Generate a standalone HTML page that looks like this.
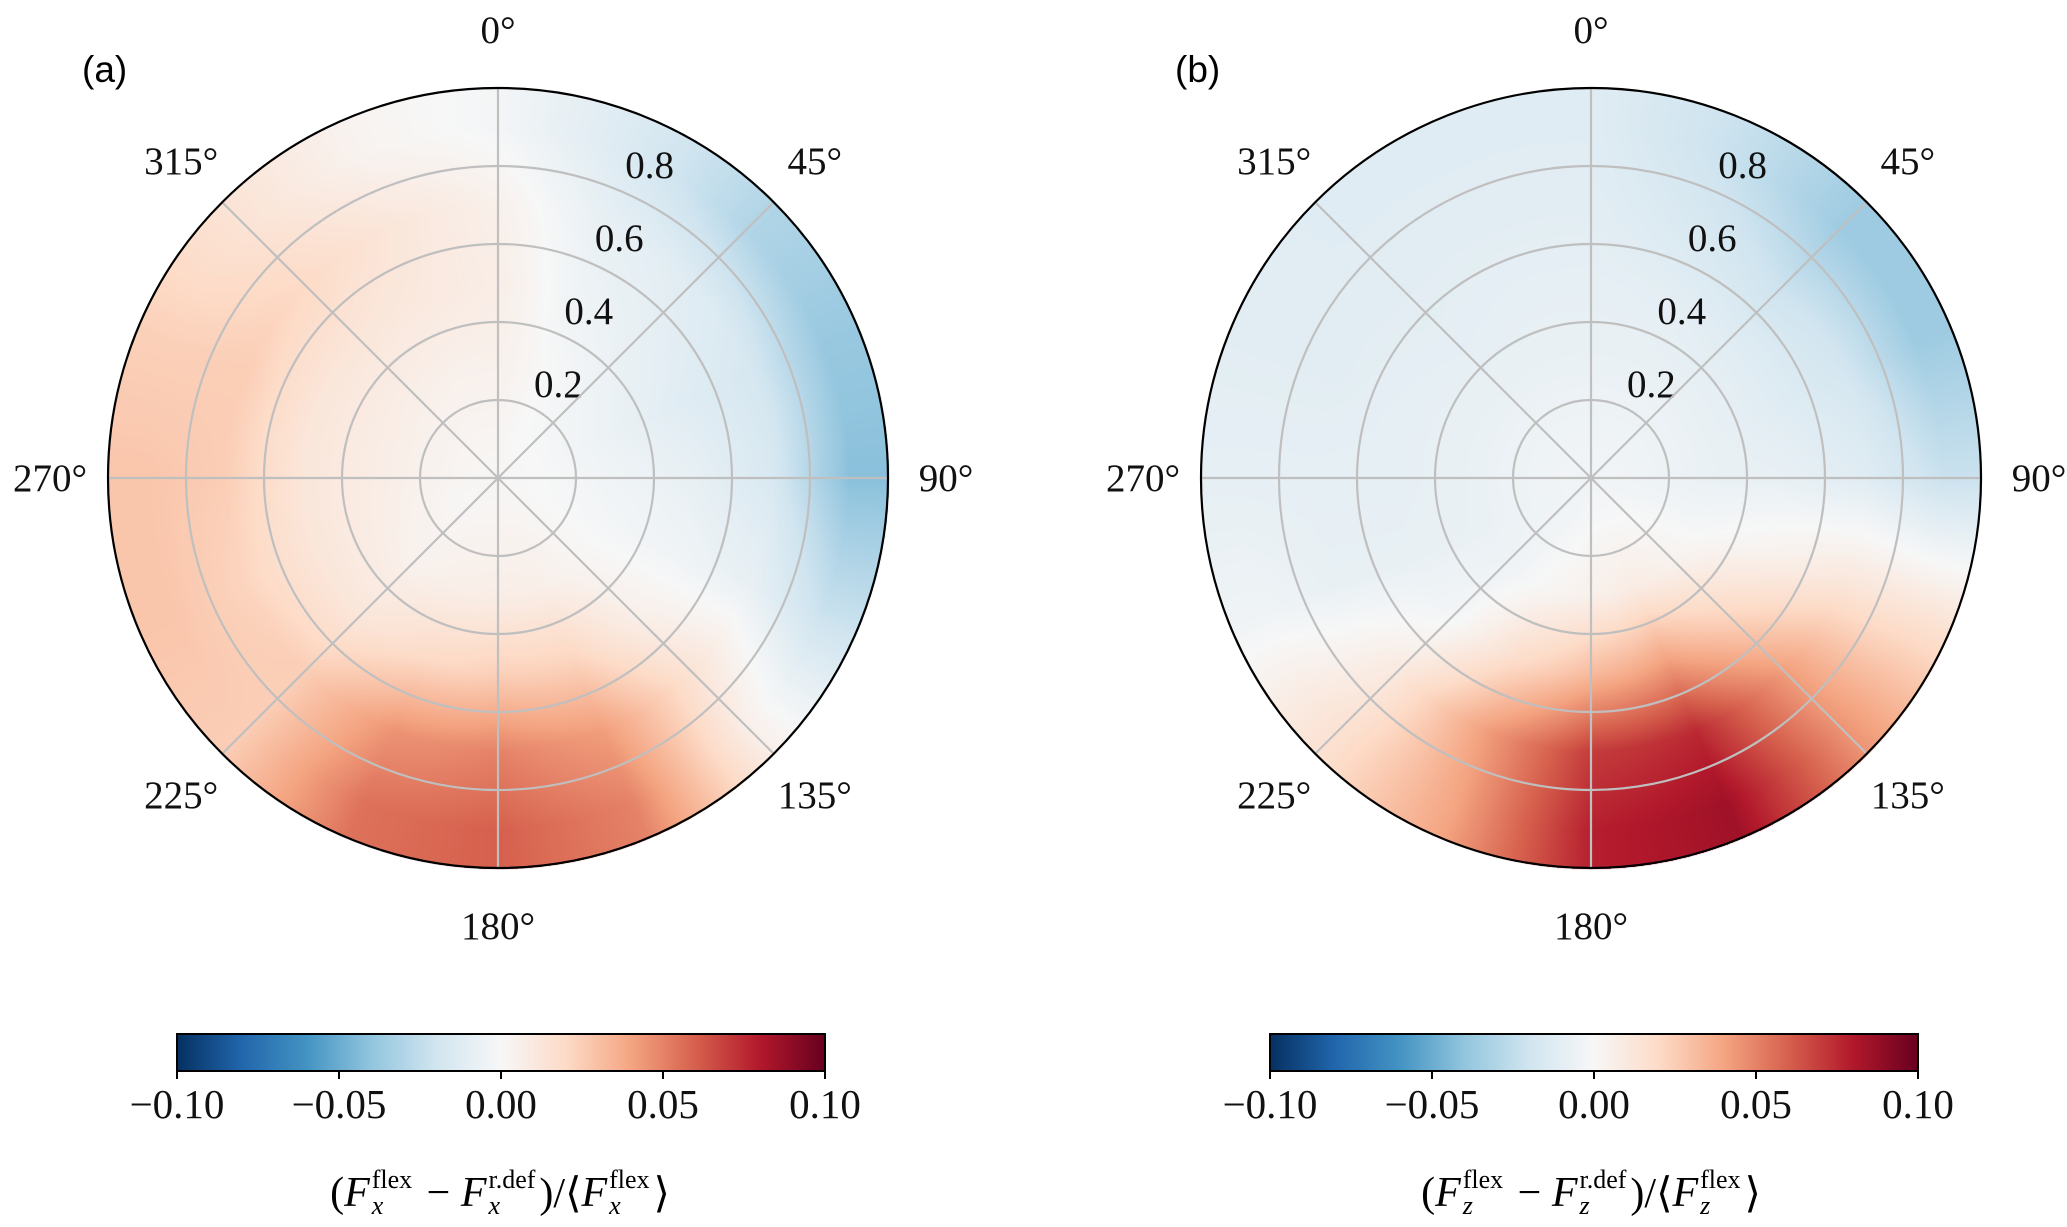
<!DOCTYPE html>
<html><head><meta charset="utf-8">
<style>
body{margin:0;background:#fff;}
#wrap{position:relative;width:2067px;height:1227px;overflow:hidden;background:#fff;}
canvas,svg{position:absolute;left:0;top:0;}
.lbl{position:absolute;font-family:"Liberation Serif",serif;font-size:42px;white-space:nowrap;transform:translate(-50%,-50%);display:flex;align-items:center;}
.lbl i{font-style:italic}
.ss{display:inline-flex;flex-direction:column;font-size:26px;line-height:26px;margin-left:2px;margin-right:4px;}
.ss .sb{font-style:italic}
</style></head><body>
<div id="wrap">
<canvas id="cv" width="2067" height="1227"></canvas>
<svg id="sv" width="2067" height="1227"></svg>
<div class="lbl" style="left:500px;top:1193px">(<i>F</i><span class="ss"><span>flex</span><span class="sb">x</span></span>&nbsp;−&nbsp;<i>F</i><span class="ss"><span>r.def</span><span class="sb">x</span></span>)/⟨<i>F</i><span class="ss"><span>flex</span><span class="sb">x</span></span>⟩</div>
<div class="lbl" style="left:1591px;top:1193px">(<i>F</i><span class="ss"><span>flex</span><span class="sb">z</span></span>&nbsp;−&nbsp;<i>F</i><span class="ss"><span>r.def</span><span class="sb">z</span></span>)/⟨<i>F</i><span class="ss"><span>flex</span><span class="sb">z</span></span>⟩</div>
</div>
<script>
const angleDeg=[0,22.5,45,67.5,90,112.5,135,157.5,180,202.5,225,247.5,270,292.5,315,337.5];
const radii=[0.1,0.3,0.5,0.7,0.9];
const valuesA=[
[0.002,0.005,0.007,0.005,-0.002],
[0,0,-0.004,-0.008,-0.015],
[0,-0.004,-0.008,-0.012,-0.03],
[0,-0.006,-0.012,-0.017,-0.038],
[0,-0.004,-0.008,-0.016,-0.042],
[0,-0.002,-0.004,-0.008,-0.022],
[0.001,0.002,0.006,0.014,0.006],
[0.002,0.006,0.022,0.042,0.05],
[0.002,0.007,0.024,0.05,0.06],
[0.002,0.006,0.02,0.045,0.055],
[0.001,0.004,0.012,0.025,0.025],
[0.001,0.006,0.012,0.022,0.028],
[0.002,0.007,0.012,0.025,0.028],
[0.002,0.007,0.012,0.025,0.024],
[0.002,0.006,0.012,0.02,0.014],
[0.002,0.005,0.01,0.012,0.003]];
const valuesB=[
[-0.004,-0.007,-0.009,-0.011,-0.012],
[-0.004,-0.007,-0.01,-0.016,-0.022],
[-0.004,-0.007,-0.012,-0.022,-0.036],
[-0.004,-0.007,-0.012,-0.018,-0.036],
[-0.004,-0.007,-0.008,-0.012,-0.022],
[-0.003,-0.002,0.004,0.012,0.014],
[-0.001,0.004,0.022,0.042,0.045],
[-0.001,0.008,0.04,0.075,0.085],
[-0.001,0.005,0.032,0.07,0.078],
[-0.003,0.001,0.018,0.042,0.04],
[-0.004,-0.005,-0.002,0.01,0.015],
[-0.004,-0.007,-0.008,-0.008,-0.004],
[-0.004,-0.007,-0.009,-0.009,-0.009],
[-0.004,-0.007,-0.009,-0.011,-0.011],
[-0.004,-0.007,-0.01,-0.011,-0.012],
[-0.004,-0.007,-0.009,-0.011,-0.012]];
const ringTicks=[0.2,0.4,0.6,0.8];
const ringLabels=["0.2","0.4","0.6","0.8"];
const thetaTicks=[0,45,90,135,180,225,270,315];
const cbTicks=[-0.1,-0.05,0,0.05,0.1];
const cbLabels=["−0.10","−0.05","0.00","0.05","0.10"];
const cmapStops=["#053061","#2166ac","#4393c3","#92c5de","#d1e5f0","#f7f7f7","#fddbc7","#f4a582","#d6604d","#b2182b","#67001f"];
const VMIN=-0.1,VMAX=0.1,R=390,CY=478;
const panels=[{cx:498,vals:valuesA,tag:"(a)",id:"a",cb0:177,cb1:825},{cx:1591,vals:valuesB,tag:"(b)",id:"b",cb0:1270,cb1:1918}];
function hex(h){return [1,3,5].map(i=>parseInt(h.substr(i,2),16));}
const stopsRGB=cmapStops.map(hex);
function cmap(v){let t=(v-VMIN)/(VMAX-VMIN);t=Math.max(0,Math.min(1,t))*10;let i=Math.min(9,Math.floor(t)),f=t-i;const a=stopsRGB[i],b=stopsRGB[i+1];return [a[0]+(b[0]-a[0])*f,a[1]+(b[1]-a[1])*f,a[2]+(b[2]-a[2])*f];}
function field(vals,r,thDeg){
 const n=angleDeg.length;let p=thDeg/22.5;let i0=Math.floor(p)%n,i1=(i0+1)%n,fa=p-Math.floor(p);
 let rr=Math.max(radii[0],Math.min(radii[radii.length-1],r));let j=0;while(j<radii.length-2&&rr>radii[j+1])j++;
 let fr=(rr-radii[j])/(radii[j+1]-radii[j]);
 const g=(i)=>vals[i][j]*(1-fr)+vals[i][j+1]*fr;
 const c0=g(i0)*(1-fa)+g(i1)*fa;
 const cen=vals.reduce((s,row)=>s+row[0],0)/n;
 if(r<radii[0]){const t=r/radii[0];return cen*(1-t)+c0*t;}
 return c0;}
const cv=document.getElementById('cv'),ctx=cv.getContext('2d');
const img=ctx.createImageData(2067,1227);
for(let i=0;i<img.data.length;i+=4){img.data[i]=img.data[i+1]=img.data[i+2]=img.data[i+3]=255;}
panels.forEach(P=>{
 for(let y=CY-R-1;y<=CY+R+1;y++)for(let x=P.cx-R-1;x<=P.cx+R+1;x++){
  const dx=x-P.cx,dy=y-CY,d=Math.sqrt(dx*dx+dy*dy);if(d>R+0.5)continue;
  let th=Math.atan2(dx,-dy)*180/Math.PI;if(th<0)th+=360;
  const c=cmap(field(P.vals,d/R,th));const k=(y*2067+x)*4;
  img.data[k]=c[0];img.data[k+1]=c[1];img.data[k+2]=c[2];}
});
ctx.putImageData(img,0,0);
const NS="http://www.w3.org/2000/svg",sv=document.getElementById('sv');
function mk(tag,attrs,parent){const e=document.createElementNS(NS,tag);for(const k in attrs)e.setAttribute(k,attrs[k]);(parent||sv).appendChild(e);return e;}
const defs=mk('defs',{});
panels.forEach(P=>{
 const g=mk('g',{});
 
 
 ringTicks.forEach((r,i)=>{const c=mk('circle',{cx:P.cx,cy:CY,r:r*R,fill:'none',stroke:'#bfbfbf','stroke-width':2.2},g);
  
  
  const t=mk('text',{x:P.cx+30+152*r,y:CY-(21+365*r)+13,'text-anchor':'middle','font-family':'Liberation Serif, serif','font-size':39,fill:'#111'},g);t.textContent=ringLabels[i];
  
  });
 thetaTicks.forEach(a=>{const rad=a*Math.PI/180;
  const l=mk('line',{x1:P.cx,y1:CY,x2:P.cx+R*Math.sin(rad),y2:CY-R*Math.cos(rad),stroke:'#bfbfbf','stroke-width':2.2},g);
  
  
  const lr=R+58;const t=mk('text',{x:P.cx+lr*Math.sin(rad),y:CY-lr*Math.cos(rad)+13,'text-anchor':'middle','font-family':'Liberation Serif, serif','font-size':39,fill:'#111'},g);t.textContent=a+'°';
  
  });
 const o=mk('circle',{cx:P.cx,cy:CY,r:R,fill:'none',stroke:'#000','stroke-width':2.2},g);
 
 
 const tg=mk('text',{x:P.cx-416,y:82,'font-family':'Liberation Sans, sans-serif','font-size':37,fill:'#000'},g);tg.textContent=P.tag;
 
 
 const gr=mk('linearGradient',{id:'grad'+P.id,x1:0,x2:1,y1:0,y2:0},defs);
 cmapStops.forEach((c,i)=>mk('stop',{offset:(i/10),'stop-color':c},gr));
 const cbx=(v)=>P.cb0+(v-VMIN)/(VMAX-VMIN)*(P.cb1-P.cb0);
 const rc=mk('rect',{x:P.cb0,y:1034,width:P.cb1-P.cb0,height:37,fill:'url(#grad'+P.id+')',stroke:'#000','stroke-width':2},g);
 
 
 cbTicks.forEach((v,i)=>{mk('line',{x1:cbx(v),x2:cbx(v),y1:1071,y2:1079,stroke:'#000','stroke-width':2},g);
  const t=mk('text',{x:cbx(v),y:1118,'text-anchor':'middle','font-family':'Liberation Serif, serif','font-size':41,fill:'#111'},g);t.textContent=cbLabels[i];
  
  });
});
</script>
</body></html>
